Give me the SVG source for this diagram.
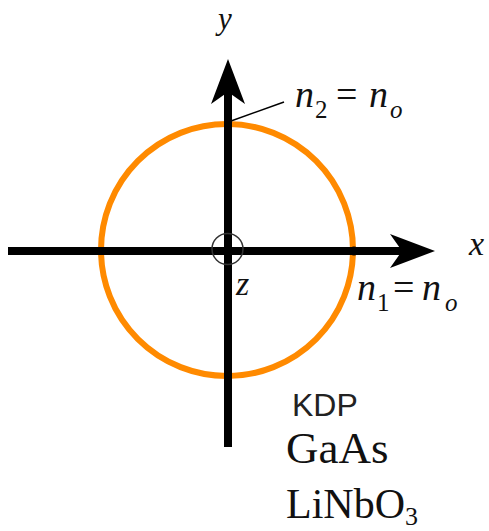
<svg xmlns="http://www.w3.org/2000/svg" width="489" height="531" viewBox="0 0 489 531">
<style>
.ax{stroke:#000;stroke-width:8;fill:none}
.ell{stroke:#FF8A00;stroke-width:6;fill:none}
.it{font-family:"Liberation Serif","Times New Roman",serif;font-style:italic;fill:#111}
.rm{font-family:"Liberation Serif","Times New Roman",serif;font-style:normal;fill:#111}
.sans{font-family:"Liberation Sans",Arial,sans-serif;fill:#222}
.sub{font-size:25px}
.up{font-style:normal}
</style>
<defs>
<marker id="ah" markerUnits="userSpaceOnUse" markerWidth="60" markerHeight="40" refX="0" refY="0" orient="auto" overflow="visible">
<path d="M15,0 L-30,-17 L-18,0 L-30,17 Z" fill="#000"/>
</marker>
</defs>
<g id="index-ellipse">
<circle class="ell" cx="227" cy="250" r="126"/>
</g>
<g id="connectors">
<line class="ax" x1="8" y1="251" x2="420" y2="251" marker-end="url(#ah)"/>
<line class="ax" x1="228" y1="447" x2="228" y2="74" marker-end="url(#ah)"/>
<line x1="231" y1="121" x2="284" y2="102" stroke="#000" stroke-width="1.5"/>
</g>
<g id="origin-z">
<circle cx="227.5" cy="249" r="15.5" fill="none" stroke="#333" stroke-width="1.5"/>
<text class="it" x="236" y="295" font-size="34">z</text>
</g>
<g id="point-n1">
<circle cx="354" cy="251" r="4.5" fill="#000"/>
<text class="it" x="357" y="300" font-size="38">n<tspan class="sub up" x="377" dy="11">1</tspan><tspan class="up" x="393" dy="-11">=</tspan><tspan x="422">n</tspan><tspan class="sub" x="445" dy="11">o</tspan></text>
</g>
<g id="point-n2">
<text class="it" x="295" y="107" font-size="38">n<tspan class="sub up" x="315" dy="11">2</tspan><tspan class="up" x="336" dy="-11">=</tspan><tspan x="369">n</tspan><tspan class="sub" x="390" dy="11">o</tspan></text>
</g>
<g id="axis-labels">
<text class="it" x="218" y="29" font-size="31">y</text>
<text class="it" x="469" y="255" font-size="34">x</text>
</g>
<g id="materials">
<text class="sans" x="292" y="416" font-size="32">KDP</text>
<text class="rm" x="286" y="463" font-size="45">GaAs</text>
<text class="rm" x="286" y="518" font-size="42">LiNbO<tspan font-size="26" dy="7">3</tspan></text>
</g>
</svg>
